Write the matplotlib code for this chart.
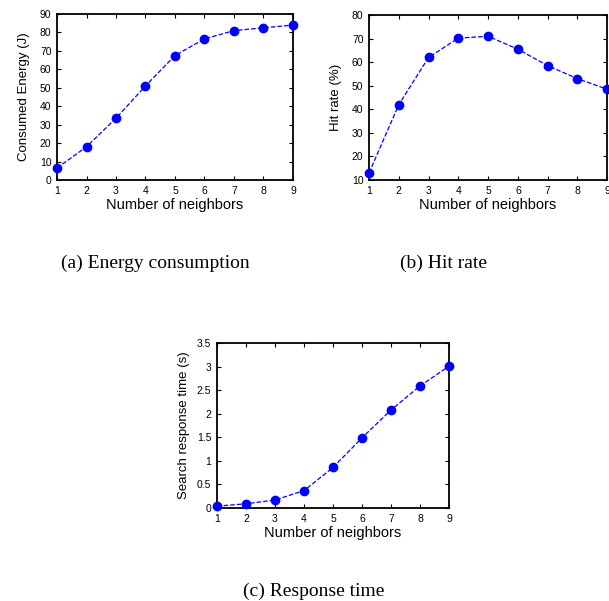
import matplotlib
matplotlib.use("Agg")
import matplotlib.pyplot as plt

neighbors = [1, 2, 3, 4, 5, 6, 7, 8, 9]
energy = [6.5, 18, 33.5, 51, 67.5, 76.5, 81, 82.5, 84]
hit_rate = [13, 42, 62, 70.2, 71, 65.5, 58.5, 53, 48.5]
response = [0.04, 0.09, 0.17, 0.37, 0.86, 1.49, 2.08, 2.59, 3.01]
response_err = [0.01, 0.01, 0.01, 0.02, 0.03, 0.04, 0.06, 0.09, 0.06]

captions = ["(a) Energy consumption", "(b) Hit rate", "(c) Response time"]
ylabels = ["Consumed Energy (J)", "Hit rate (%)", "Search response time (s)"]
xlabel = "Number of neighbors"

plt.rcParams['font.family'] = ['Liberation Sans', 'DejaVu Sans']

fig = plt.figure(figsize=(6.09, 6.01), dpi=100)

def style(ax):
    ax.tick_params(direction='in', length=3, width=0.8, labelsize=7.5, top=True, right=True,
                   colors='black')
    ax.tick_params(axis='x', pad=4.5)
    ax.tick_params(axis='y', pad=4)
    for s in ax.spines.values():
        s.set_linewidth(1.3)
    ax.set_xlim(1, 9)
    ax.set_xticks(neighbors)
    ax.set_xlabel(xlabel, fontsize=10.5, labelpad=1)

ax1 = fig.add_axes([0.0936, 0.7005, 0.3875, 0.2762])
ax1.plot(neighbors, energy, '--o', color='blue', lw=0.9, ms=6, clip_on=False, zorder=5)
style(ax1)
ax1.set_ylim(0, 90)
ax1.set_yticks(range(0, 91, 10))
ax1.set_ylabel(ylabels[0], fontsize=9.5, labelpad=7)

ax2 = fig.add_axes([0.606, 0.7005, 0.391, 0.2745])
ax2.plot(neighbors, hit_rate, '--o', color='blue', lw=0.9, ms=6, clip_on=False, zorder=5)
style(ax2)
ax2.set_ylim(10, 80)
ax2.set_yticks(range(10, 81, 10))
ax2.set_ylabel(ylabels[1], fontsize=9.5, labelpad=7)

ax3 = fig.add_axes([0.3563, 0.1547, 0.381, 0.2745])
ax3.errorbar(neighbors, response, yerr=response_err, fmt='--o', color='blue', lw=0.9, ms=6,
             elinewidth=0.8, capsize=0, clip_on=False, zorder=5)
style(ax3)
ax3.set_ylim(0, 3.5)
ax3.set_yticks([0, 0.5, 1, 1.5, 2, 2.5, 3, 3.5])
ax3.set_yticklabels(['0', '0.5', '1', '1.5', '2', '2.5', '3', '3.5'])
ax3.set_ylabel(ylabels[2], fontsize=9.5, labelpad=5)

serif = ['Liberation Serif', 'DejaVu Serif']
fig.text(155/609, 1 - 263/601, captions[0], ha='center', va='center', fontsize=14, family=serif)
fig.text(444/609, 1 - 263/601, captions[1], ha='center', va='center', fontsize=14, family=serif)
fig.text(314/609, 1 - 591/601, captions[2], ha='center', va='center', fontsize=14, family=serif)

fig.savefig("out.png", dpi=100)
